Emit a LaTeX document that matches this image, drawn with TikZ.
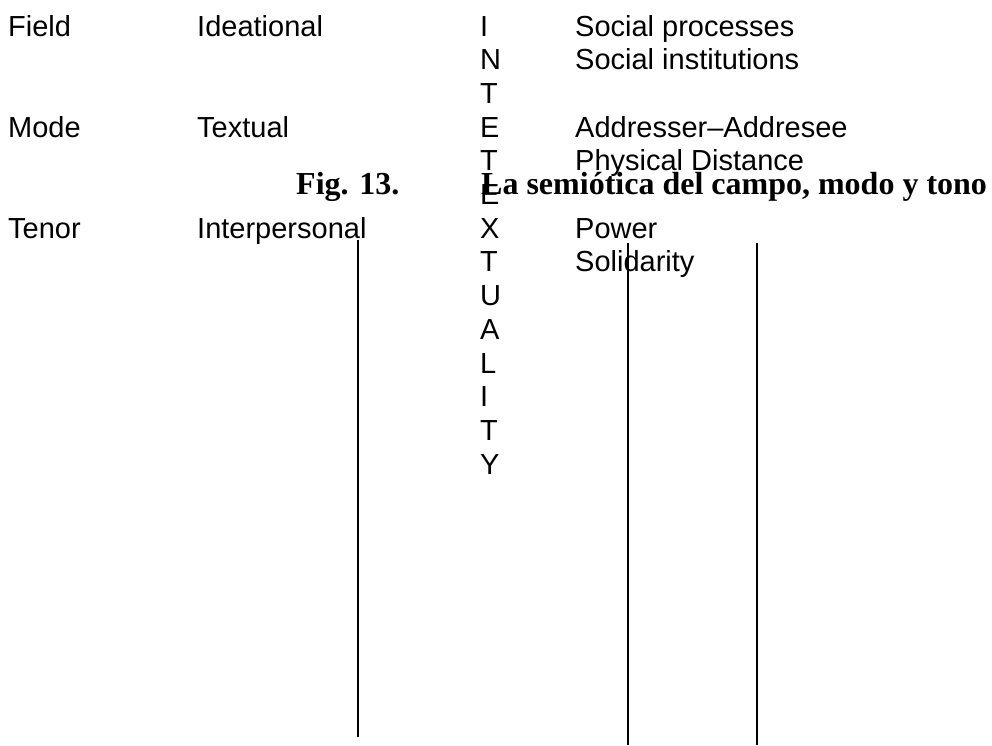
\documentclass[tikz,border=0pt]{standalone}
\usepackage{fontspec}
\setmainfont{Liberation Serif}
\setsansfont{Liberation Sans}
\begin{document}
\begin{tikzpicture}[x=1pt,y=-1pt,
  lbl/.style={anchor=base west,inner sep=0pt,font=\sffamily\fontsize{29}{34}\selectfont},
  captxt/.style={anchor=base west,inner sep=0pt,font=\bfseries\fontsize{32}{36}\selectfont},
  rule/.style={line width=1.3pt,line cap=butt}]
\useasboundingbox (0,0) rectangle (992,745);
% baseline of row n: 36 + 33.7 n
\def\rowy#1{36+33.7*#1}
% first and second columns
\node[lbl] (field) at (8,{\rowy{0}}) {Field};
\node[lbl] (ideational) at (197,{\rowy{0}}) {Ideational};
\node[lbl] (mode) at (8,{\rowy{3}}) {Mode};
\node[lbl] (textual) at (197,{\rowy{3}}) {Textual};
\node[lbl] (tenor) at (8,{\rowy{6}}) {Tenor};
\node[lbl] (interpersonal) at (197,{\rowy{6}}) {Interpersonal};
% vertical word
\foreach \ch [count=\i from 0] in {I,N,T,E,T,E,X,T,U,A,L,I,T,Y}
  \node[lbl] (letter\i) at (480,{\rowy{\i}}) {\ch};
% fourth column
\node[lbl] (socproc) at (575,{\rowy{0}}) {Social processes};
\node[lbl] (socinst) at (575,{\rowy{1}}) {Social institutions};
\node[lbl] (addr) at (575,{\rowy{3}}) {Addresser–Addresee};
\node[lbl] (phys) at (575,{\rowy{4}}) {Physical Distance};
\node[lbl] (power) at (575,{\rowy{6}}) {Power};
\node[lbl] (solid) at (575,{\rowy{7}}) {Solidarity};
% caption
\node[captxt] (fignum) at (296,194) {Fig. 13.};
\node[captxt] (figtitle) at (481,194) {La semiótica del campo, modo y tono};
% vertical rules
\coordinate (r1top) at (358,240);
\coordinate (r1bot) at (358,737);
\coordinate (r2top) at (628,243);
\coordinate (r2bot) at (628,745);
\coordinate (r3top) at (757,243);
\coordinate (r3bot) at (757,745);
\draw[rule] (r1top) -- (r1bot);
\draw[rule] (r2top) -- (r2bot);
\draw[rule] (r3top) -- (r3bot);
\end{tikzpicture}
\end{document}
